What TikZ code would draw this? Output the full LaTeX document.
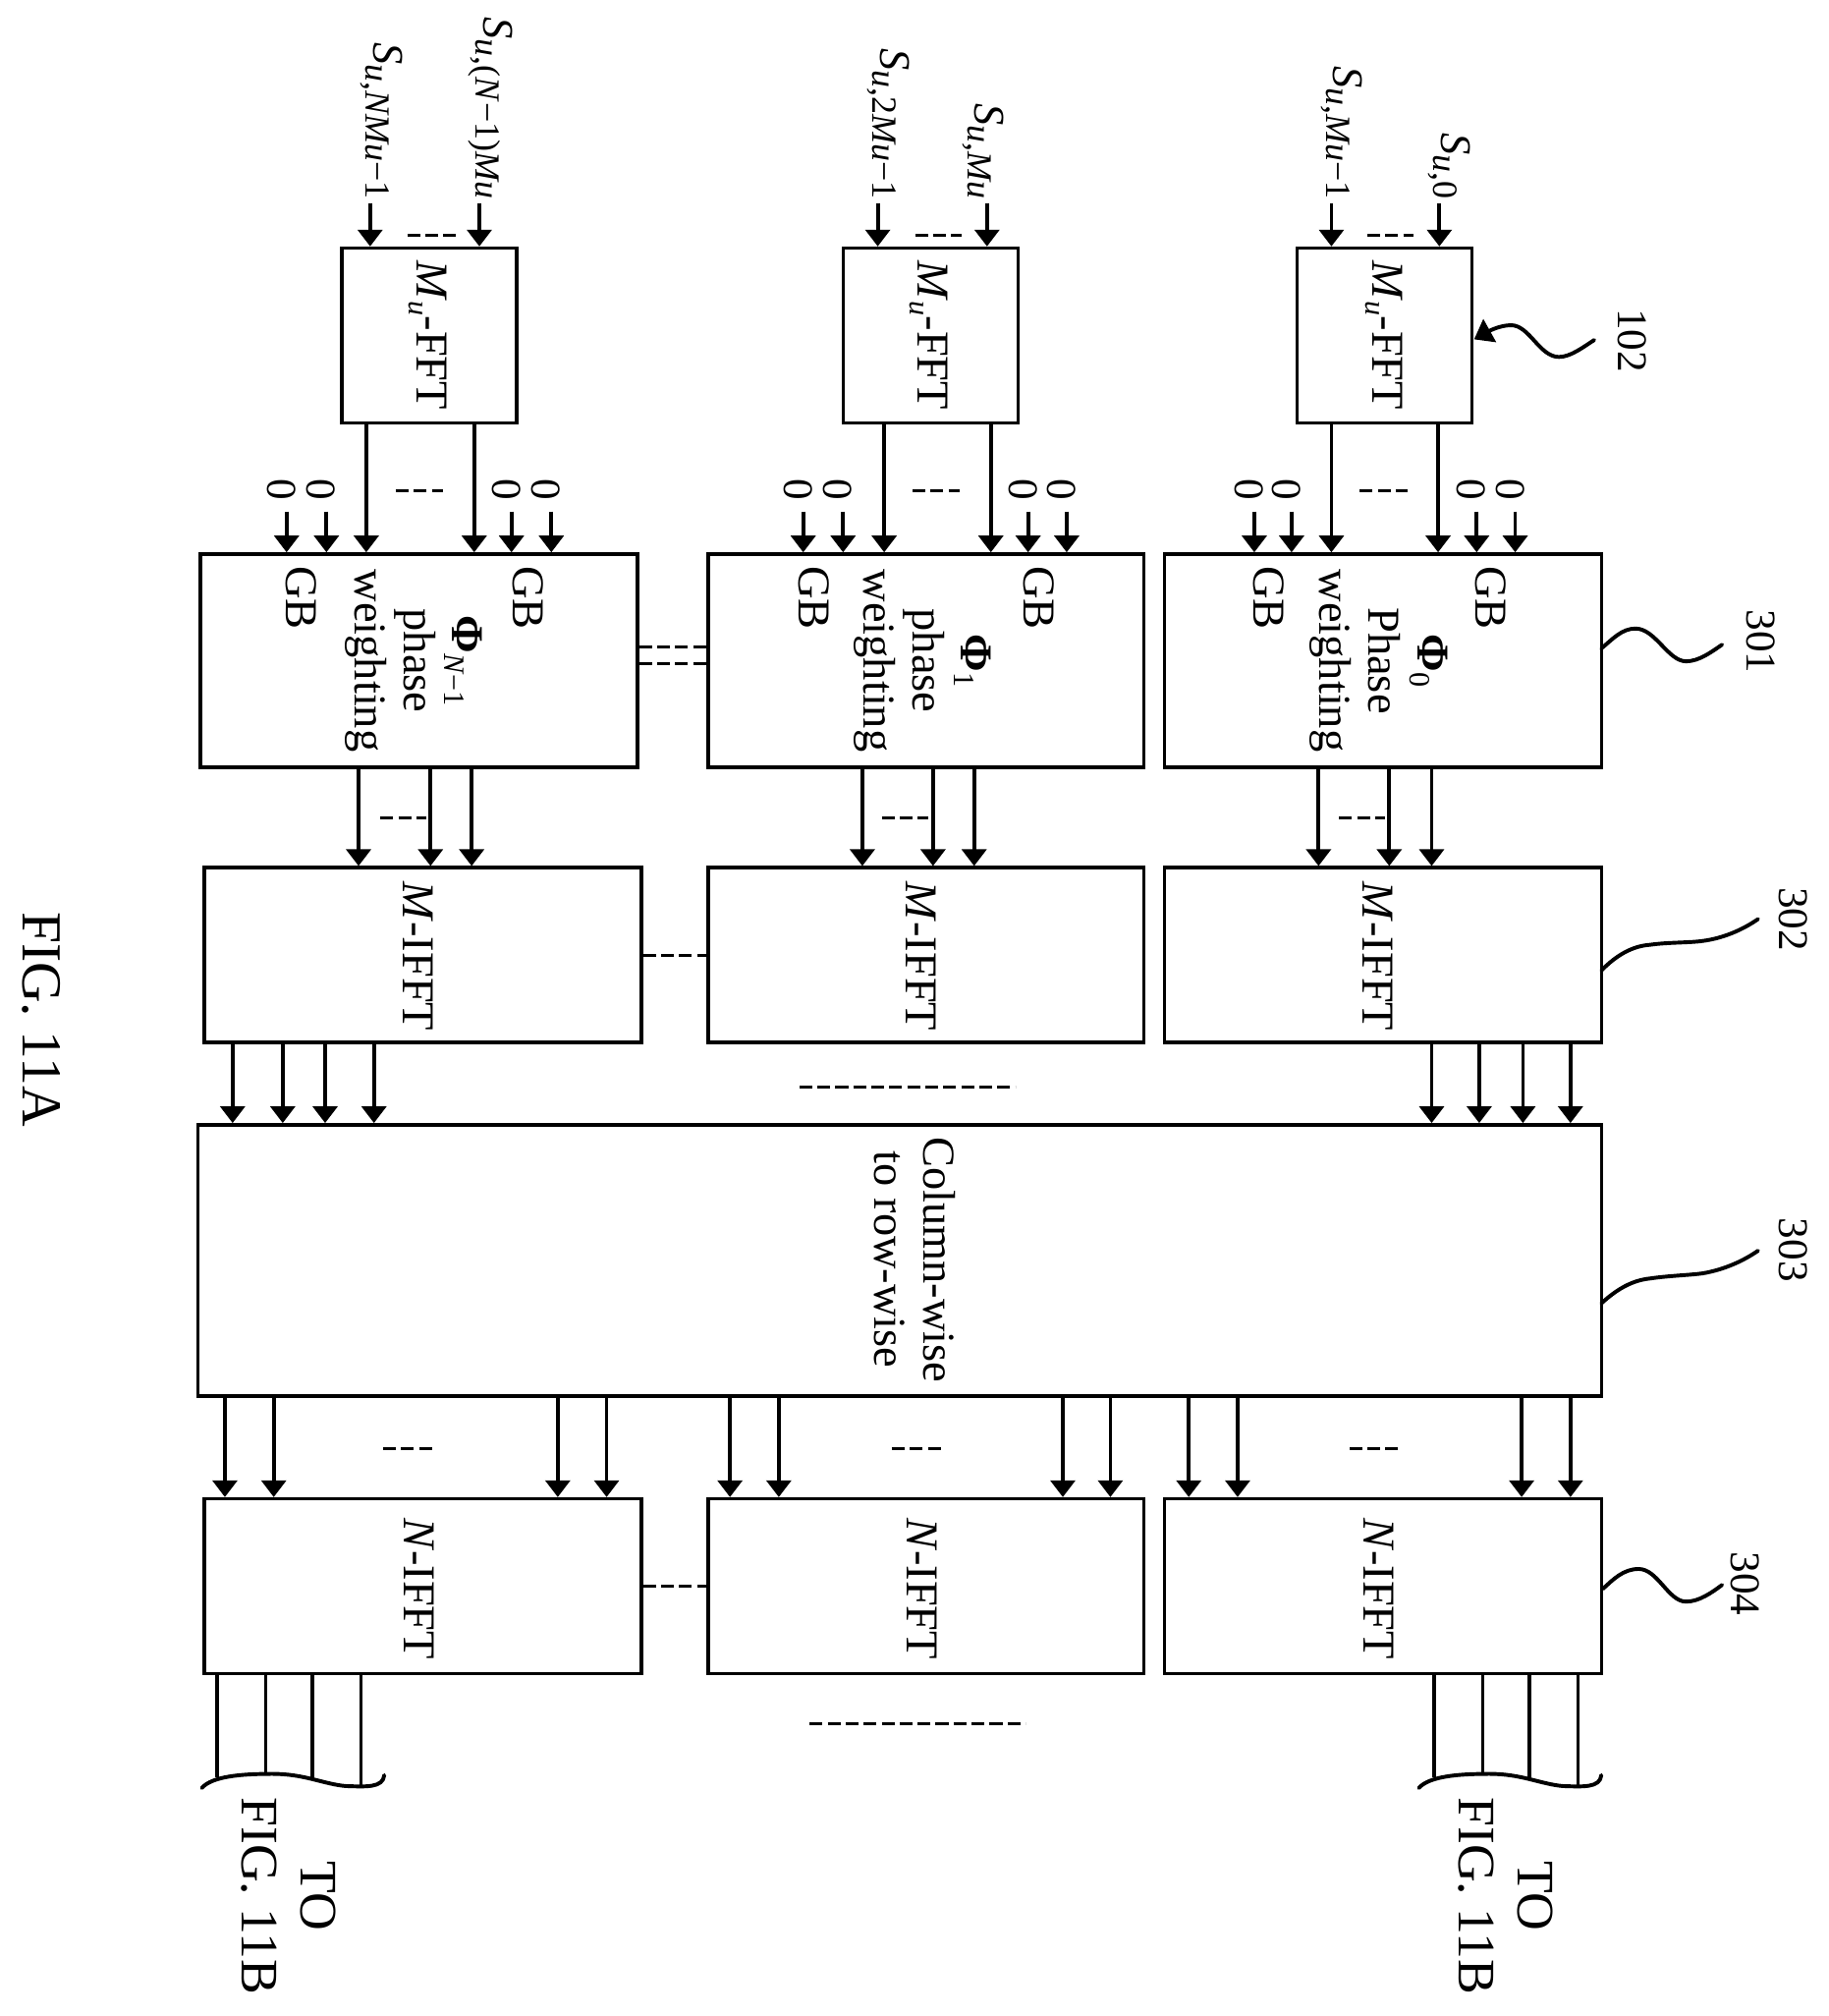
\documentclass[tikz,border=0pt]{standalone}
\usepackage{fontspec}
\setmainfont{Liberation Serif}
\usetikzlibrary{positioning,calc,arrows.meta}

\newcommand{\Sig}[1]{{\fontsize{34}{34}\selectfont\textit{S}}\raisebox{-6pt}{\fontsize{27.5}{27.5}\selectfont\textit{u},#1}}
\newcommand{\Sub}[1]{\raisebox{-6pt}{\fontsize{23}{23}\selectfont #1}}

\tikzset{
    block/.style={draw, line width=2.6pt, minimum height=#1},
    txt/.style={rotate=-90, inner sep=0pt, align=center, font=\fontsize{35.5}{38}\selectfont},
    num/.style={txt, font=\fontsize{33}{33}\selectfont},
    bigtxt/.style={txt, font=\fontsize{41}{41}\selectfont},
    sig/.style={line width=2.9pt, -{Triangle[width=19pt,length=13pt]}},
    plain/.style={line width=2.5pt},
    dots/.style={line width=2.3pt, dash pattern=on 10pt off 4pt},
    squig/.style={line width=3pt, line cap=round}
}

\begin{document}
\begin{tikzpicture}[x=1pt, y=-1pt]
    \useasboundingbox (0,0) rectangle (1422.5,1568.4);

    % FFT blocks
    \foreach \c/\x in {A/1077.5, B/724, C/334}
        \node[block=136pt, minimum width=136pt] (F\c) at (\x,261) {};

    % Phase weighting blocks
    \foreach \c/\x/\w in {A/1076/340, B/720.5/339, C/326/340}
        \node[block=166pt, minimum width=\w pt] (P\c) at (\x,514) {};

    % M-IFFT and N-IFFT blocks
    \foreach \c/\x/\w in {A/1076/340, B/720.5/339, C/329/340} {
        \node[block=136pt, minimum width=\w pt] (M\c) at (\x,743) {};
        \node[block=136pt, minimum width=\w pt] (N\c) at (\x,1234) {};
        \node[txt] (Mt\c) at ($(M\c)+(-4,1)$) {\textit{M}-IFFT};
        \node[txt] (Nt\c) at ($(N\c)+(-3,2)$) {\textit{N}-IFFT};
    }

    % Column to row block
    \node[block=211pt, minimum width=1092pt] (CR) at (700,980.5) {};
    \node[txt] (CRt) at (712,980) {Column-wise\\to row-wise};

    % Block texts
    \foreach \c/\x in {A/1077, B/723, C/333}
        \node[txt] (Ft\c) at (\x,261) {\textit{M}\Sub{\textit{u}}-FFT};
    \node[txt] (PtA) at (1073,514) {\textbf{Φ}\Sub{0}\\Phase\\weighting};
    \node[txt] (PtB) at (718,514) {\textbf{Φ}\Sub{1}\\phase\\weighting};
    \node[txt] (PtC) at (322,514) {\textbf{Φ}\Sub{\textit{N}−1}\\phase\\weighting};
    \foreach \n/\x in {A1/987, A2/1160, B1/633, B2/808, C1/234, C2/411}
        \node[txt] (GB\n) at (\x,465) {GB};

    % Inputs
    \foreach \c/\xa/\xb in {A/1036/1120, B/683/768, C/288/373} {
        \draw [sig] (\xa,158) -- (\xa,158 |- F\c.north);
        \draw [sig] (\xb,158) -- (\xb,158 |- F\c.north);
    }
    \node[txt, anchor=east] (SA1) at (1044,155) {\Sig{\textit{Mu}−1}};
    \node[txt, anchor=east] (SA2) at (1128,155) {\Sig{0}};
    \node[txt, anchor=east] (SB1) at (691,155) {\Sig{2\textit{Mu}−1}};
    \node[txt, anchor=east] (SB2) at (765,155) {\Sig{\textit{Mu}}};
    \node[txt, anchor=east] (SC1) at (297,155) {\Sig{\textit{NMu}−1}};
    \node[txt, anchor=east] (SC2) at (382,155) {\Sig{(\textit{N}−1)\textit{Mu}}};

    % FFT to phase weighting
    \foreach \c/\xa/\xb in {A/1036/1119, B/688/771, C/285/369} {
        \draw [sig] (\xa,0 |- F\c.south) -- (\xa,0 |- P\c.north);
        \draw [sig] (\xb,0 |- F\c.south) -- (\xb,0 |- P\c.north);
    }

    % Zeros
    \foreach \c/\xa/\xb/\xc/\xd in {A/976/1005/1149/1179, B/625/656/800/830, C/223/254/398/429}
        \foreach \x in {\xa,\xb,\xc,\xd} {
            \node[num] (Z\c\x) at ({\x-4},381) {0};
            \draw [sig] (\x,398) -- (\x,398 |- P\c.north);
        }

    % Phase weighting to M-IFFT
    \foreach \c/\xa/\xb/\xc in {A/1026/1081/1114, B/671/726/758, C/279/335/367}
        \foreach \x in {\xa,\xb,\xc}
            \draw [sig] (\x,0 |- P\c.south) -- (\x,0 |- M\c.north);

    % M-IFFT to column to row
    \foreach \x in {1114,1151,1185,1222}
        \draw [sig] (\x,0 |- MA.south) -- (\x,0 |- CR.north);
    \foreach \x in {181,220,253,291}
        \draw [sig] (\x,0 |- MC.south) -- (\x,0 |- CR.north);

    % Column to row to N-IFFT
    \foreach \c/\xa/\xb/\xc/\xd in {A/925/963/1184/1222, B/568/606/827/864, C/175/213/434/472}
        \foreach \x in {\xa,\xb,\xc,\xd}
            \draw [sig] (\x,0 |- CR.south) -- (\x,0 |- N\c.north);

    % Outputs
    \foreach \x/\y in {1116/1383,1154/1380,1190/1385,1228/1389}
        \draw [plain] (\x,0 |- NA.south) -- (\x,\y);
    \foreach \x/\y in {169/1383,207/1380,243/1385,281/1389}
        \draw [plain] (\x,0 |- NC.south) -- (\x,\y);
    \foreach \n/\x in {A/1104, C/157} {
        \coordinate (b\n) at (\x,1391);
        \draw [squig] (b\n) .. controls ($(b\n)+(8,-9)$) and ($(b\n)+(30,-11)$) .. ($(b\n)+(55,-11)$)
            .. controls ($(b\n)+(80,-11)$) and ($(b\n)+(95,-3)$) .. ($(b\n)+(112,-1.5)$)
            .. controls ($(b\n)+(128,-1)$) and ($(b\n)+(141,0)$) .. ($(b\n)+(142,-10)$);
    }
    \node[bigtxt] (ToA) at (1195,1475) {TO};
    \node[bigtxt] (ToC) at (248,1475) {TO};
    \node[bigtxt] (FigA) at (1149,1475) {FIG. 11B};
    \node[bigtxt] (FigC) at (202,1475) {FIG. 11B};
    \node[txt, font=\fontsize{44}{44}\selectfont] (Fig) at (32,793) {FIG. 11A};

    % Dashes between lines
    \foreach \n/\xa/\xb/\y in {i1/1064/1100/183, i2/712/748/183, i3/317/355/183,
                              f1/1058/1095/382, f2/710/747/382, f3/308/345/382,
                              p1/1042/1078/636, p2/686/722/636, p3/296/332/636,
                              n1/1050/1088/1127, n2/694/732/1127, n3/298/337/1127,
                              l1/622/790/846, l2/630/798/1341} {
        \coordinate (d\n) at (\xa,\y);
        \coordinate (e\n) at (\xb,\y);
        \draw [dots] (d\n) -- (e\n);
    }
    \draw [dots] (MC.east) -- (MC.east -| MB.west);
    \draw [dots] (NC.east) -- (NC.east -| NB.west);
    \draw [dots] ([yshift=11pt]PC.east) -- ([yshift=11pt]PC.east -| PB.west);
    \draw [dots] ([yshift=-2pt]PC.east) -- ([yshift=-2pt]PC.east -| PB.west);

    % Reference numerals
    \node[num] (r102) at (1270,265) {102};
    \node[num] (r301) at (1370,499) {301};
    \node[num] (r302) at (1395.5,715) {302};
    \node[num] (r303) at (1395.5,972.5) {303};
    \node[num] (r304) at (1358,1232) {304};

    \coordinate (s102) at (1240.5,264.5);
    \draw [squig, -{Triangle[width=20pt,length=14pt]}] (s102) .. controls (1232,270) and (1222,277.7) .. (1213,277.7)
        .. controls (1198,277.7) and (1190,253) .. (1175.8,253)
        .. controls (1166,253) and (1156,259) .. (1147,264);
    \coordinate (s301) at (1340,501.5);
    \draw [squig] (1246,504.5) .. controls (1255,497) and (1262,489) .. (1272.6,489)
        .. controls (1288,489) and (1298,514.5) .. (1312,514.5)
        .. controls (1322,514.5) and (1332,507) .. (s301);
    \coordinate (s302) at (1368,715);
    \draw [squig] (1246,755) .. controls (1258,743) and (1270,736) .. (1284,735)
        .. controls (1298,733) and (1315,733.5) .. (1325,732)
        .. controls (1340,730) and (1355,724) .. (s302);
    \coordinate (s303) at (1368,973);
    \draw [squig] (1246,1014) .. controls (1258,1003) and (1270,996) .. (1284,994.6)
        .. controls (1298,992.5) and (1315,992) .. (1325,990.6)
        .. controls (1340,988) and (1355,982) .. (s303);
    \coordinate (s304) at (1340,1233);
    \draw [squig] (NA.east) ++(0,2) .. controls (1255,1229) and (1263,1220.6) .. (1275,1220.6)
        .. controls (1290,1220.6) and (1298,1246) .. (1312,1246)
        .. controls (1322,1246) and (1332,1239) .. (s304);
\end{tikzpicture}
\end{document}
